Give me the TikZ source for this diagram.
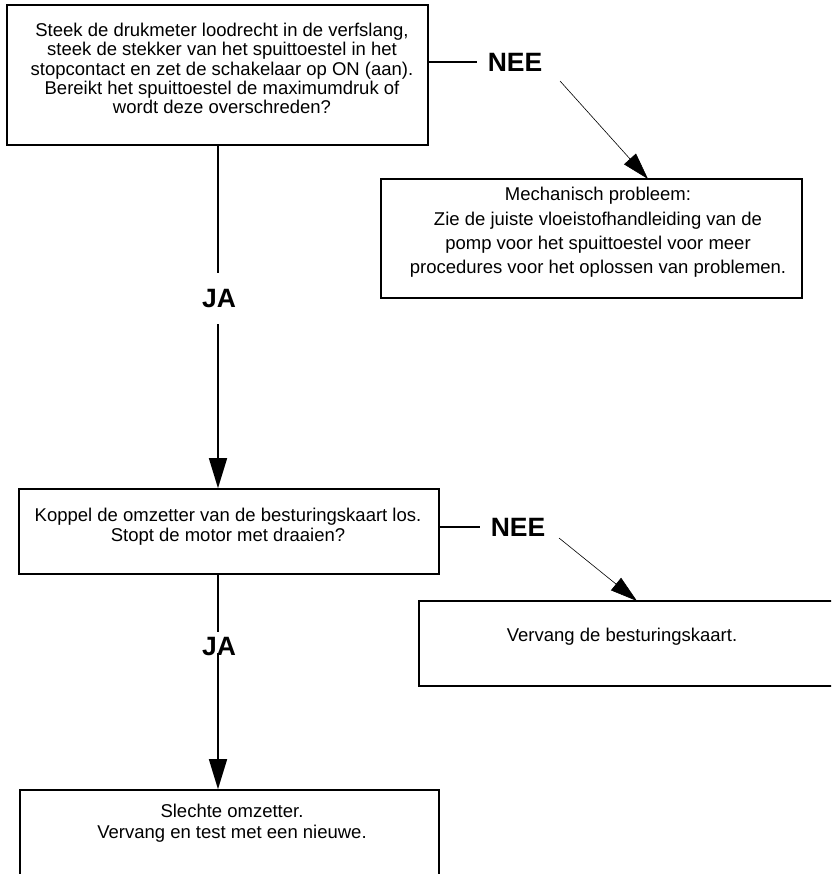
\documentclass[tikz,border=0pt]{standalone}
\usepackage{fontspec}
\setmainfont{Liberation Sans}
\usetikzlibrary{arrows.meta}
\begin{document}
\begin{tikzpicture}[x=1pt,y=-1pt,
  box/.style={draw, line width=1.6pt, rectangle, inner sep=0pt},
  txt/.style={align=center, inner sep=0pt},
  lbl/.style={font=\fontsize{26.5}{26.5}\selectfont\bfseries, inner sep=0pt},
  conn/.style={line width=1.5pt},
  bigarrow/.style={line width=1.5pt, -{Triangle[length=30pt,width=18pt]}},
  thinarrow/.style={line width=0.6pt, -{Triangle[length=27pt,width=16pt]}}]
\useasboundingbox (0,0) rectangle (831,874);
\clip (0,0) rectangle (831,874);
\fill[white] (0,0) rectangle (831,874);

% boxes
\node[box, minimum width=421pt, minimum height=140pt] (b1) at (217.5,75) {};
\node[box, minimum width=421pt, minimum height=119pt] (b3) at (591.5,238.5) {};
\node[box, minimum width=420pt, minimum height=85pt] (b2) at (229,531.5) {};
\node[box, minimum width=424pt, minimum height=85pt] (b5) at (631,643.5) {};
\node[box, minimum width=419pt, minimum height=95pt] (b4) at (229.5,837.5) {};

% texts
\node[txt, font=\fontsize{18.5}{19.3}\selectfont] (t1) at (222,68.5)
  {Steek de drukmeter loodrecht in de verfslang,\\
   steek de stekker van het spuittoestel in het\\
   stopcontact en zet de schakelaar op ON (aan).\\
   Bereikt het spuittoestel de maximumdruk of\\
   wordt deze overschreden?};
\node[txt, font=\fontsize{18.5}{24.4}\selectfont] (t3) at (598,232.5)
  {Mechanisch probleem:\\
   Zie de juiste vloeistofhandleiding van de\\
   pomp voor het spuittoestel voor meer\\
   procedures voor het oplossen van problemen.};
\node[txt, font=\fontsize{18.5}{20}\selectfont] (t2) at (228,527)
  {Koppel de omzetter van de besturingskaart los.\\
   Stopt de motor met draaien?};
\node[txt, font=\fontsize{18.5}{20}\selectfont] (t5) at (622,637)
  {Vervang de besturingskaart.};
\node[txt, font=\fontsize{18.5}{21}\selectfont] (t4) at (232,823.5)
  {Slechte omzetter.\\
   Vervang en test met een nieuwe.};

% labels
\node[lbl] (nee1) at (515,62) {NEE};
\node[lbl] (nee2) at (518,527) {NEE};
\node[lbl, minimum height=51pt] (ja1) at (219,298.5) {JA};
\node[lbl] (ja2) at (219,647) {JA};

% helper coordinates
\coordinate (a1s) at (560,81);
\coordinate (a1e) at (648,179);
\coordinate (a2s) at (559,538);
\coordinate (a2e) at (637,601);
\coordinate (g1) at (218,298);
\coordinate (g2) at (218,632);
\coordinate (c2) at (218,653);

% connectors
\draw[conn] (b1.east |- nee1.center) -- ([xshift=-11pt]nee1.west);
\draw[thinarrow] (a1s) -- (a1e);
\draw[conn] (b2.east |- nee2.center) -- ([xshift=-11pt]nee2.west);
\draw[thinarrow] (a2s) -- (a2e);

\draw[conn] (g1 |- b1.south) -- (g1 |- ja1.north);
\draw[bigarrow] (g1 |- ja1.south) -- (g1 |- b2.north);
\draw[conn] (g2 |- b2.south) -- (g2);
\draw[bigarrow] (c2) -- (c2 |- b4.north);
\end{tikzpicture}
\end{document}
